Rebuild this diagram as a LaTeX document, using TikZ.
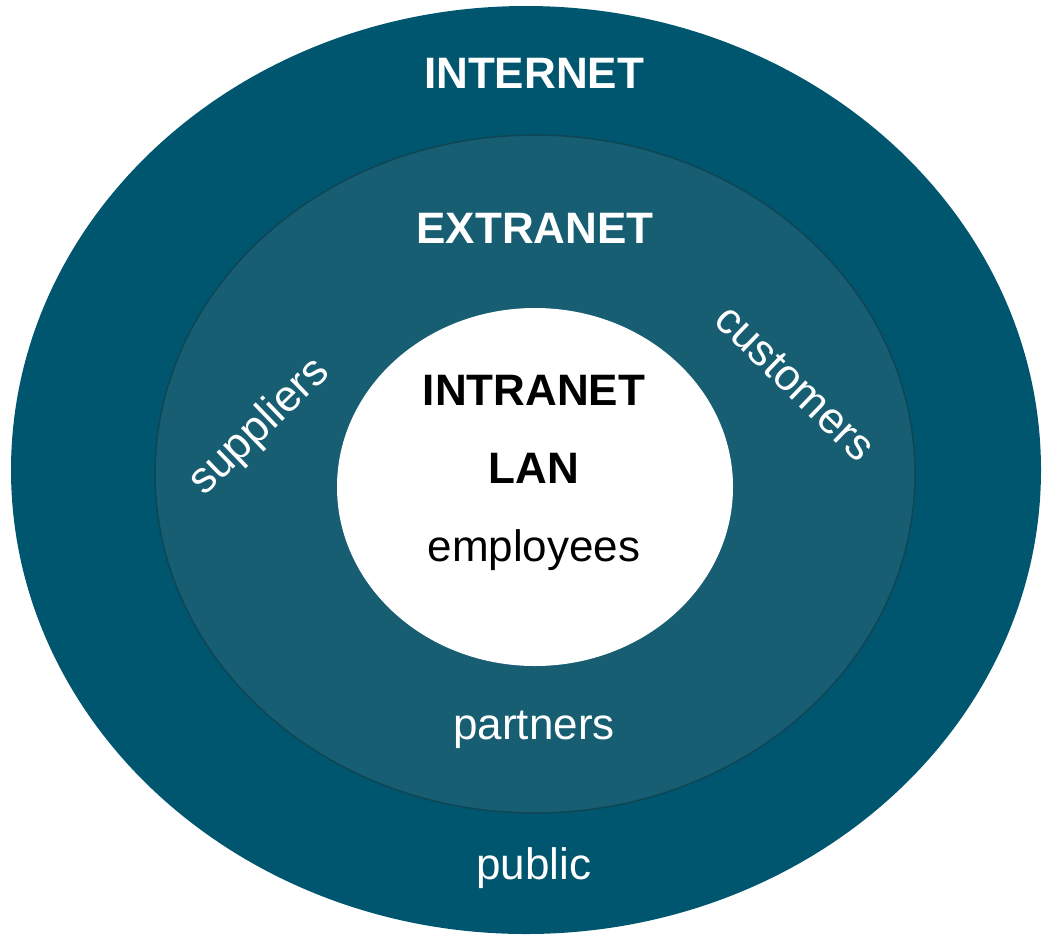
\documentclass[tikz,border=0pt]{standalone}
\usepackage{fontspec}
\setmainfont{Liberation Sans}
\definecolor{outerc}{RGB}{0,86,110}
\definecolor{midc}{RGB}{23,94,114}
\definecolor{midborder}{RGB}{14,70,86}
\tikzset{
  ring/.style={ellipse, inner sep=0pt},
  big/.style={font=\fontsize{44}{50}\selectfont\bfseries},
  lbl/.style={font=\fontsize{44}{50}\selectfont, text=white},
}
\usetikzlibrary{shapes.geometric}
\begin{document}
\begin{tikzpicture}[x=1pt,y=-1pt]
\useasboundingbox (0,0) rectangle (1049,938);
\node[ring, fill=outerc, minimum width=1030, minimum height=928] (internet) at (526,470) {};
\node[ring, fill=midc, draw=midborder, line width=1.5pt, minimum width=760, minimum height=678] (extranet) at (535,474) {};
\node[ring, fill=white, minimum width=396, minimum height=358] (intranet) at (535,487) {};
\node[big, text=white] (tinternet) at (534,73) {INTERNET};
\node[big, text=white] (textranet) at (535,228) {EXTRANET};
\node[big, text=black] (tintranet) at (534,390) {INTRANET};
\node[big, text=black] (tlan) at (534,468) {LAN};
\node[lbl, text=black] (temp) at (534,550) {employees};
\node[lbl] (tpartners) at (534,730) {partners};
\node[lbl] (tpublic) at (534,868) {public};
\node[lbl, rotate=44] (tsuppliers) at (260,427) {suppliers};
\node[lbl, rotate=-44] (tcustomers) at (795,383) {customers};
\end{tikzpicture}
\end{document}
